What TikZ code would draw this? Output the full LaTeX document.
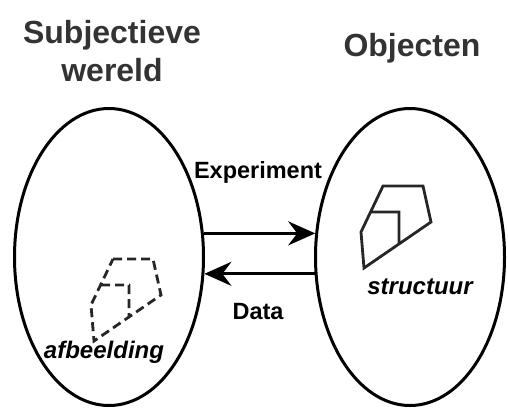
\documentclass[tikz,border=0pt]{standalone}
\usepackage{fontspec}
\setmainfont{Liberation Sans}
\usetikzlibrary{shapes.geometric, arrows.meta, positioning}
\tikzstyle{world} = [ellipse, draw=black, line width=3pt, minimum width=189pt, minimum height=297pt, inner sep=0pt]
\tikzstyle{title} = [text=black!80, font=\bfseries\fontsize{32}{38}\selectfont, align=center]
\tikzstyle{label} = [text=black, font=\bfseries\fontsize{23.5}{26}\selectfont]
\tikzstyle{arrow} = [line width=3pt, -{Stealth[length=27pt,width=24pt,inset=9pt]}]
\tikzstyle{facet} = [line width=2.8pt, line join=miter, black!85]

\begin{document}
\begin{tikzpicture}[x=1pt, y=-1pt]
    \useasboundingbox (0,0) rectangle (508,410);
    \node (subj) [world] at (109,257) {};
    \node (obj)  [world] at (410,257) {};
    \node (subjtitle) [title] at (112,51) {Subjectieve\\wereld};
    \node (objtitle)  [title] at (412,48) {Objecten};

    \draw [arrow] (subj.14) -- (obj.166);
    \draw [arrow] (obj.190) -- (subj.-10);
    \node (exp)  [label] at (258,172) {Experiment};
    \node (data) [label] at (258,312) {Data};

    % object and its image
    \draw [facet] (383,186) -- (423,186) -- (431,222) -- (364,268) -- (361,232) -- cycle
        (371,212) -- (399,212) -- (399,244);
    \draw [facet, dash pattern=on 9pt off 5pt, shift={(-270,73)}]
        (383,186) -- (423,186) -- (431,222) -- (364,268) -- (361,232) -- cycle
        (371,212) -- (399,212) -- (399,244);
    \node (struct) [label, font=\bfseries\itshape\fontsize{24}{26}\selectfont] at (420,287) {structuur};
    \node (afb)    [label, font=\bfseries\itshape\fontsize{24}{26}\selectfont] at (104,352) {afbeelding};
\end{tikzpicture}
\end{document}
